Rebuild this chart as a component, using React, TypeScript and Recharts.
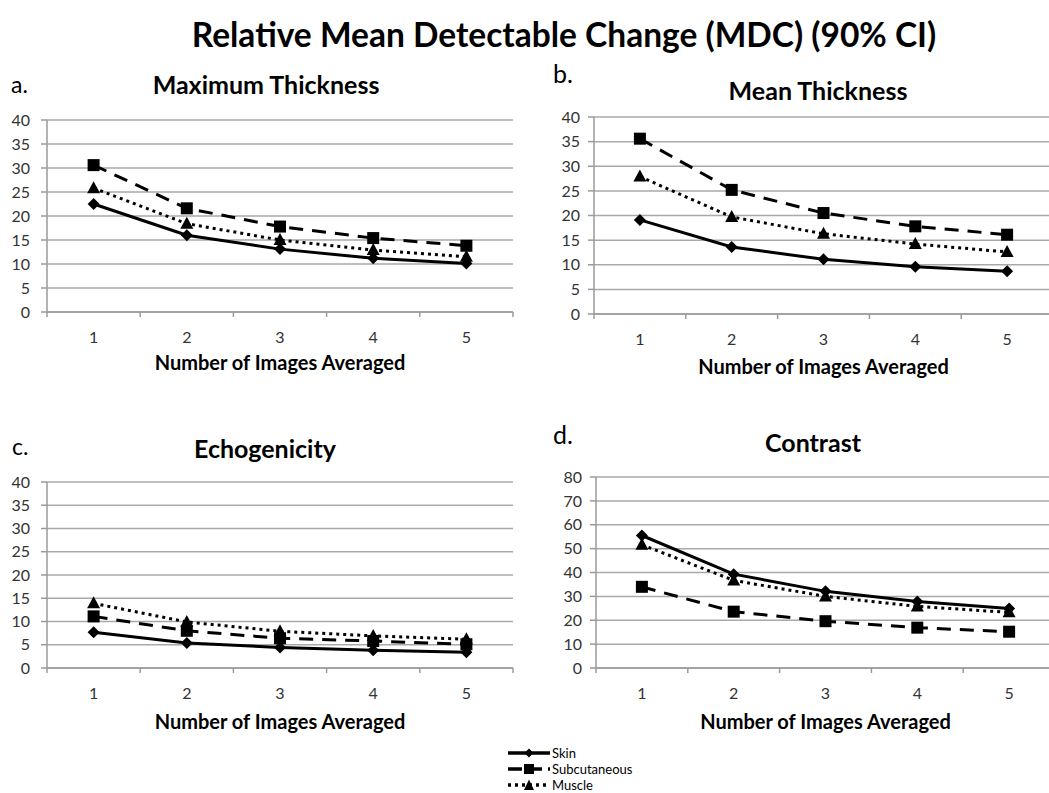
import { LineChart, Line, XAxis, YAxis, CartesianGrid } from 'recharts'

// x categories
const imagesAveraged = [1, 2, 3, 4, 5]
const xTicks = [0.5, 1, 1.5, 2, 2.5, 3, 3.5, 4, 4.5, 5, 5.5]

// a. Maximum Thickness
const maxSkin = [22.5, 16.0, 13.1, 11.2, 10.1]
const maxSubcutaneous = [30.6, 21.6, 17.8, 15.4, 13.8]
const maxMuscle = [25.8, 18.4, 15.0, 12.9, 11.5]

// b. Mean Thickness
const meanSkin = [19.1, 13.6, 11.1, 9.6, 8.7]
const meanSubcutaneous = [35.6, 25.2, 20.5, 17.8, 16.1]
const meanMuscle = [27.9, 19.7, 16.3, 14.2, 12.6]

// c. Echogenicity
const echoSkin = [7.7, 5.4, 4.4, 3.8, 3.4]
const echoSubcutaneous = [11.1, 8.0, 6.4, 5.8, 5.1]
const echoMuscle = [13.9, 9.9, 7.9, 6.9, 6.2]

// d. Contrast
const contrastSkin = [55.5, 39.3, 32.1, 27.9, 24.9]
const contrastSubcutaneous = [34.0, 23.6, 19.6, 16.9, 15.2]
const contrastMuscle = [51.6, 36.7, 30.0, 25.8, 23.3]

const ticks40 = [0, 5, 10, 15, 20, 25, 30, 35, 40]
const ticks80 = [0, 10, 20, 30, 40, 50, 60, 70, 80]

const FONT = 'Lato, "Open Sans", sans-serif'
const GRID = '#a9a9a9'
const AXIS = '#9a9a9a'
const TICK_TEXT = '#333'

const Diamond = (props: any) => {
  const { cx, cy, key } = props
  if (cx == null || cy == null) return null
  return <path key={key} d={`M${cx},${cy - 6} L${cx + 6},${cy} L${cx},${cy + 6} L${cx - 6},${cy} Z`} fill="#000" />
}

const Square = (props: any) => {
  const { cx, cy, key } = props
  if (cx == null || cy == null) return null
  return <rect key={key} x={cx - 6} y={cy - 6} width={12} height={12} fill="#000" />
}

const Triangle = (props: any) => {
  const { cx, cy, key } = props
  if (cx == null || cy == null) return null
  return <path key={key} d={`M${cx},${cy - 7} L${cx + 6.5},${cy + 5} L${cx - 6.5},${cy + 5} Z`} fill="#000" />
}

// integer ticks get a label, half ticks get the category boundary mark
const XTick = (props: any) => {
  const { x, y, payload } = props
  const v = payload.value
  if (v % 1 !== 0) {
    return <line x1={x} x2={x} y1={y - 20} y2={y - 15} stroke={AXIS} strokeWidth={1.5} />
  }
  return (
    <text x={x} y={y} dy="0.71em" textAnchor="middle" fill={TICK_TEXT} fontSize={16} fontFamily={FONT}>
      {v}
    </text>
  )
}

interface PanelProps {
  left: number
  top: number
  width: number
  height: number
  yAxisWidth: number
  rightMargin: number
  yMax: number
  yTicks: number[]
  skin: number[]
  subcutaneous: number[]
  muscle: number[]
  labelOffset: number
  yTickMargin: number
}

function Panel(p: PanelProps) {
  const data = imagesAveraged.map((n, i) => ({
    n,
    skin: p.skin[i],
    subcutaneous: p.subcutaneous[i],
    muscle: p.muscle[i],
  }))

  return (
    <div style={{ position: 'absolute', left: p.left, top: p.top }}>
      <LineChart
        width={p.width}
        height={p.height}
        data={data}
        margin={{ top: 20, right: p.rightMargin, left: 0, bottom: 0 }}
      >
        <CartesianGrid vertical={false} stroke={GRID} strokeWidth={1.5} />
        <XAxis
          dataKey="n"
          type="number"
          domain={[0.5, 5.5]}
          ticks={xTicks}
          interval={0}
          height={68}
          tickLine={false}
          tickSize={6}
          tickMargin={14}
          tick={<XTick />}
          axisLine={{ stroke: AXIS, strokeWidth: 1.5 }}
          label={{
            value: 'Number of Images Averaged',
            position: 'insideBottom',
            offset: p.labelOffset,
            fill: '#000',
            fontSize: 20,
            fontWeight: 700,
            fontFamily: FONT,
          }}
        />
        <YAxis
          type="number"
          domain={[0, p.yMax]}
          ticks={p.yTicks}
          interval={0}
          width={p.yAxisWidth}
          tickSize={6}
          tickMargin={p.yTickMargin}
          axisLine={{ stroke: AXIS, strokeWidth: 1.5 }}
          tickLine={{ stroke: AXIS, strokeWidth: 1.5 }}
          tick={{ fill: TICK_TEXT, fontSize: 16, fontFamily: FONT }}
        />
        <Line
          dataKey="skin"
          stroke="#000"
          strokeWidth={3}
          dot={Diamond}
          activeDot={false}
          isAnimationActive={false}
        />
        <Line
          dataKey="subcutaneous"
          stroke="#000"
          strokeWidth={3}
          strokeDasharray="14 9"
          dot={Square}
          activeDot={false}
          isAnimationActive={false}
        />
        <Line
          dataKey="muscle"
          stroke="#000"
          strokeWidth={3}
          strokeDasharray="3 4"
          dot={Triangle}
          activeDot={false}
          isAnimationActive={false}
        />
      </LineChart>
    </div>
  )
}

const centered = (x: number, y: number, size: number, bold: boolean): React.CSSProperties => ({
  position: 'absolute',
  left: x,
  top: y,
  transform: 'translate(-50%, -50%)',
  fontSize: size,
  fontWeight: bold ? 700 : 400,
  lineHeight: 1,
  whiteSpace: 'nowrap',
  color: '#000',
})

const letter = (x: number, y: number, size: number): React.CSSProperties => ({
  position: 'absolute',
  left: x,
  top: y,
  transform: 'translateY(-50%)',
  fontSize: size,
  lineHeight: 1,
  color: '#000',
})

function LegendRow({ label, dash, marker }: { label: string; dash?: string; marker: 'diamond' | 'square' | 'triangle' }) {
  return (
    <div style={{ display: 'flex', alignItems: 'center', height: 16 }}>
      <svg width={44} height={14}>
        <line x1={1} x2={43} y1={7} y2={7} stroke="#000" strokeWidth={3.5} strokeDasharray={dash} />
        {marker === 'diamond' && <path d="M22,2.5 L26.5,7 L22,11.5 L17.5,7 Z" fill="#000" />}
        {marker === 'square' && <rect x={17} y={2} width={10} height={10} fill="#000" />}
        {marker === 'triangle' && <path d="M22,1.5 L27,12 L17,12 Z" fill="#000" />}
      </svg>
      <span style={{ fontSize: 13, lineHeight: 1, marginLeft: 1 }}>{label}</span>
    </div>
  )
}

export default function App() {
  return (
    <div
      style={{
        position: 'absolute',
        left: 0,
        top: 0,
        width: 1049,
        height: 793,
        overflow: 'hidden',
        background: '#fff',
        fontFamily: FONT,
      }}
    >
      <div style={centered(564, 35, 33.5, true)}>Relative Mean Detectable Change (MDC) (90% CI)</div>

      <div style={letter(11, 84, 23)}>a.</div>
      <div style={centered(266, 84, 25, true)}>Maximum Thickness</div>
      <div style={letter(553, 73, 25)}>b.</div>
      <div style={centered(818, 90, 25, true)}>Mean Thickness</div>
      <div style={letter(12, 446, 23)}>c.</div>
      <div style={centered(265, 448, 25, true)}>Echogenicity</div>
      <div style={letter(553, 434, 25)}>d.</div>
      <div style={centered(813, 442, 25, true)}>Contrast</div>

      <Panel
        left={0}
        top={100}
        width={520}
        height={280}
        yAxisWidth={47}
        rightMargin={7}
        yMax={40}
        yTicks={ticks40}
        skin={maxSkin}
        subcutaneous={maxSubcutaneous}
        muscle={maxMuscle}
        labelOffset={10}
        yTickMargin={11}
      />
      <Panel
        left={520}
        top={97}
        width={533}
        height={285}
        yAxisWidth={74}
        rightMargin={0}
        yMax={40}
        yTicks={ticks40}
        skin={meanSkin}
        subcutaneous={meanSubcutaneous}
        muscle={meanMuscle}
        labelOffset={8}
        yTickMargin={8}
      />
      <Panel
        left={0}
        top={462}
        width={520}
        height={274}
        yAxisWidth={47}
        rightMargin={7}
        yMax={40}
        yTicks={ticks40}
        skin={echoSkin}
        subcutaneous={echoSubcutaneous}
        muscle={echoMuscle}
        labelOffset={7}
        yTickMargin={11}
      />
      <Panel
        left={520}
        top={457}
        width={535}
        height={279}
        yAxisWidth={76}
        rightMargin={0}
        yMax={80}
        yTicks={ticks80}
        skin={contrastSkin}
        subcutaneous={contrastSubcutaneous}
        muscle={contrastMuscle}
        labelOffset={7}
        yTickMargin={8}
      />

      <div style={{ position: 'absolute', left: 507, top: 745 }}>
        <LegendRow label="Skin" marker="diamond" />
        <LegendRow label="Subcutaneous" marker="square" dash="14 6" />
        <LegendRow label="Muscle" marker="triangle" dash="3 4" />
      </div>
    </div>
  )
}
